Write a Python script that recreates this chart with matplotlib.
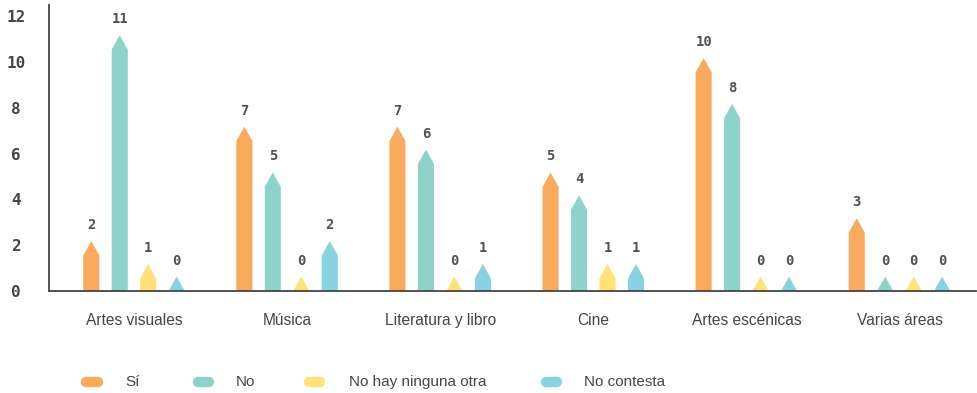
import matplotlib
matplotlib.use("Agg")
import matplotlib.pyplot as plt
from matplotlib.patches import Polygon
from matplotlib.lines import Line2D
import numpy as np

categories = ["Artes visuales", "Música", "Literatura y libro", "Cine", "Artes escénicas", "Varias áreas"]
series_names = ["Sí", "No", "No hay ninguna otra", "No contesta"]
si = [2, 7, 7, 5, 10, 3]
no = [11, 5, 6, 4, 8, 0]
ninguna = [1, 0, 0, 1, 0, 0]
no_contesta = [0, 2, 1, 1, 0, 0]
series = [si, no, ninguna, no_contesta]
colors = ["#FAAA5C", "#8ED3CA", "#FFE278", "#88D3E2"]
yticks = [0, 2, 4, 6, 8, 10, 12]

plt.rcParams['font.family'] = ['Liberation Sans', 'DejaVu Sans']
num_font = ['DejaVu Sans Mono', 'DejaVu Sans']

fig = plt.figure(figsize=(9.78, 3.93), dpi=100)
ax = fig.add_axes([49/978, 1-291/393, (976-49)/978, (291-5)/393])

n_cat = len(categories)
offsets = np.array([-1.5, -0.5, 0.5, 1.5]) * 0.186
width = 0.105
tip = 0.63

for s_idx, vals in enumerate(series):
    for c_idx, v in enumerate(vals):
        xc = c_idx + offsets[s_idx]
        top = max(v + 0.18, tip)
        shoulder = top - tip
        x0, x1 = xc - width/2, xc + width/2
        if shoulder > 0:
            pts = [(x0, 0), (x1, 0), (x1, shoulder), (xc, top), (x0, shoulder)]
        else:
            pts = [(x0, 0), (x1, 0), (xc, top)]
        ax.add_patch(Polygon(pts, closed=True, facecolor=colors[s_idx], edgecolor='none'))
        ax.annotate(str(v), (xc, top), xytext=(0, 6.5), textcoords='offset points',
                    ha='center', va='bottom', fontsize=10, fontweight='bold',
                    color='#505050', family=num_font)

ax.set_xlim(-0.555, 5.5)
ax.set_ylim(0, 12.5)
ax.set_yticks(yticks)
ax.set_yticklabels([str(t) for t in yticks], fontsize=11.5, fontweight='bold', color='#444444',
                   ha='center', family=num_font)
ax.set_xticks(range(n_cat))
ax.set_xticklabels(categories, fontsize=11.2, color='#444444')
ax.tick_params(axis='x', length=0, pad=16)
ax.tick_params(axis='y', length=0, pad=24)
for sp in ['top', 'right']:
    ax.spines[sp].set_visible(False)
for sp in ['left', 'bottom']:
    ax.spines[sp].set_color('#444444')
    ax.spines[sp].set_linewidth(1.3)

# legend
leg_y = 1 - 382/393
marker_x = [92, 203, 315, 551]
text_x = [125, 236, 349, 584]
for i, name in enumerate(series_names):
    half = 5.5/978
    fig.add_artist(Line2D([marker_x[i]/978 - half, marker_x[i]/978 + half], [leg_y, leg_y],
                          transform=fig.transFigure, color=colors[i], lw=7.5,
                          solid_capstyle='round'))
    fig.text(text_x[i]/978, leg_y, name, ha='left', va='center', fontsize=11, color='#444444')

fig.savefig("out.png", dpi=100)
